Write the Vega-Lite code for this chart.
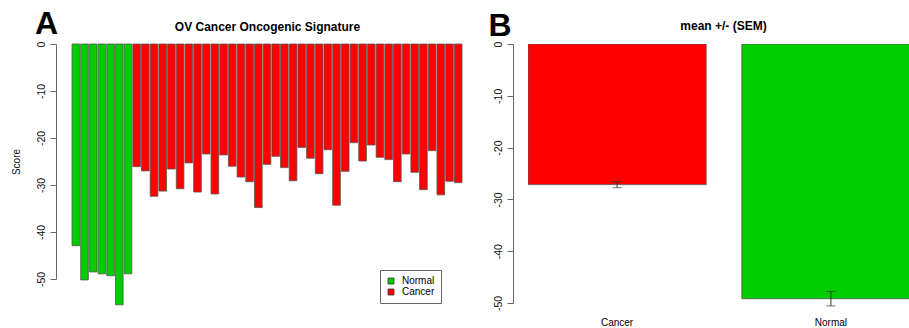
{
  "$schema": "https://vega.github.io/schema/vega-lite/v6.json",
  "background": "white",
  "padding": {"left": 11, "top": 8, "right": 0, "bottom": 0},
  "config": {
    "font": "Liberation Sans",
    "view": {"stroke": null},
    "axis": {"grid": false, "labelColor": "#111", "titleColor": "#111", "domainColor": "#666", "tickColor": "#666"}
  },
  "datasets": {
    "scores": [
      {"sample": "N1", "group": "Normal", "score": -42.9},
      {"sample": "N2", "group": "Normal", "score": -50.2},
      {"sample": "N3", "group": "Normal", "score": -48.5},
      {"sample": "N4", "group": "Normal", "score": -48.9},
      {"sample": "N5", "group": "Normal", "score": -49.3},
      {"sample": "N6", "group": "Normal", "score": -55.5},
      {"sample": "N7", "group": "Normal", "score": -48.9},
      {"sample": "C1", "group": "Cancer", "score": -26.1},
      {"sample": "C2", "group": "Cancer", "score": -27.0},
      {"sample": "C3", "group": "Cancer", "score": -32.4},
      {"sample": "C4", "group": "Cancer", "score": -31.3},
      {"sample": "C5", "group": "Cancer", "score": -26.6},
      {"sample": "C6", "group": "Cancer", "score": -30.8},
      {"sample": "C7", "group": "Cancer", "score": -25.3},
      {"sample": "C8", "group": "Cancer", "score": -31.5},
      {"sample": "C9", "group": "Cancer", "score": -23.4},
      {"sample": "C10", "group": "Cancer", "score": -31.9},
      {"sample": "C11", "group": "Cancer", "score": -23.6},
      {"sample": "C12", "group": "Cancer", "score": -26.0},
      {"sample": "C13", "group": "Cancer", "score": -28.3},
      {"sample": "C14", "group": "Cancer", "score": -29.3},
      {"sample": "C15", "group": "Cancer", "score": -34.8},
      {"sample": "C16", "group": "Cancer", "score": -25.6},
      {"sample": "C17", "group": "Cancer", "score": -23.9},
      {"sample": "C18", "group": "Cancer", "score": -26.3},
      {"sample": "C19", "group": "Cancer", "score": -29.1},
      {"sample": "C20", "group": "Cancer", "score": -22.0},
      {"sample": "C21", "group": "Cancer", "score": -24.3},
      {"sample": "C22", "group": "Cancer", "score": -27.6},
      {"sample": "C23", "group": "Cancer", "score": -22.5},
      {"sample": "C24", "group": "Cancer", "score": -34.3},
      {"sample": "C25", "group": "Cancer", "score": -27.1},
      {"sample": "C26", "group": "Cancer", "score": -21.0},
      {"sample": "C27", "group": "Cancer", "score": -24.9},
      {"sample": "C28", "group": "Cancer", "score": -21.5},
      {"sample": "C29", "group": "Cancer", "score": -24.1},
      {"sample": "C30", "group": "Cancer", "score": -24.6},
      {"sample": "C31", "group": "Cancer", "score": -29.3},
      {"sample": "C32", "group": "Cancer", "score": -23.4},
      {"sample": "C33", "group": "Cancer", "score": -27.3},
      {"sample": "C34", "group": "Cancer", "score": -31.0},
      {"sample": "C35", "group": "Cancer", "score": -22.7},
      {"sample": "C36", "group": "Cancer", "score": -32.1},
      {"sample": "C37", "group": "Cancer", "score": -29.2},
      {"sample": "C38", "group": "Cancer", "score": -29.5}
    ]
  },
  "bounds": "flush",
  "spacing": 66,
  "resolve": {"scale": {"color": "independent", "x": "independent", "y": "independent"}, "legend": {"color": "independent"}},
  "hconcat": [
    {
      "width": 390,
      "height": 235,
      "data": {"name": "scores"},
      "title": {"text": "A", "fontSize": 32, "fontWeight": "bold", "color": "black", "anchor": "start", "frame": "group", "dx": -37, "offset": -21},
      "mark": {"type": "bar", "stroke": "#555", "strokeWidth": 0.8},
      "encoding": {
        "x": {
          "field": "sample", "type": "nominal", "sort": null,
          "scale": {"paddingInner": 0.12, "paddingOuter": 0},
          "axis": {"orient": "top", "labels": false, "ticks": false, "domain": false, "title": "OV Cancer Oncogenic Signature", "titleFontSize": 12, "titleFontWeight": "bold", "titleColor": "black", "titlePadding": 11}
        },
        "y": {
          "field": "score", "type": "quantitative",
          "scale": {"domain": [-50, 0], "nice": false},
          "axis": {"values": [0, -10, -20, -30, -40, -50], "labelExpr": "toString(datum.value)", "title": "Score", "offset": 16, "labelAngle": 270, "labelFontSize": 10.5, "tickSize": 6, "labelPadding": 4, "titleFontSize": 10, "titleFontWeight": "normal", "titlePadding": 15}
        },
        "color": {
          "field": "group", "type": "nominal",
          "scale": {"domain": ["Normal", "Cancer"], "range": ["#00CD00", "#FF0000"]},
          "legend": {"orient": "none", "legendX": 308, "legendY": 226, "title": null, "symbolType": "square", "symbolSize": 36, "symbolStrokeColor": "#333", "symbolStrokeWidth": 0.8, "labelFontSize": 10, "labelColor": "black", "strokeColor": "#666", "fillColor": "white", "padding": 6, "rowPadding": 1, "labelOffset": 6}
        }
      }
    },
    {
      "width": 381,
      "height": 259,
      "data": {"name": "scores"},
      "title": {"text": "mean +/- (SEM)", "fontSize": 12, "fontWeight": "bold", "color": "black", "anchor": "middle", "frame": "group", "dx": 5, "offset": -24},
      "encoding": {
        "x": {
          "field": "group", "type": "nominal", "sort": ["Cancer", "Normal"],
          "scale": {"range": [0, 392], "paddingInner": 0.1667, "paddingOuter": 0},
          "axis": {"title": null, "labelAngle": 0, "ticks": false, "domain": false, "labelFontSize": 10, "labelPadding": 14, "labelColor": "black"}
        }
      },
      "layer": [
        {
          "mark": {"type": "bar", "clip": true, "stroke": "#555", "strokeWidth": 0.8},
          "encoding": {
            "y": {
              "aggregate": "mean", "field": "score", "type": "quantitative", "title": "B",
              "scale": {"domain": [-50, 0], "nice": false},
              "axis": {"values": [0, -10, -20, -30, -40, -50], "labelExpr": "toString(datum.value)", "offset": 15, "labelAngle": 270, "labelFontSize": 10.5, "tickSize": 6, "labelPadding": 4, "titleAngle": 0, "titleFontSize": 32, "titleFontWeight": "bold", "titleColor": "black", "titleX": -25, "titleY": -9, "titleAlign": "left", "titleBaseline": "alphabetic"}
            },
            "color": {
              "field": "group", "type": "nominal",
              "scale": {"domain": ["Normal", "Cancer"], "range": ["#00CD00", "#FF0000"]},
              "legend": null
            }
          }
        },
        {
          "mark": {"type": "errorbar", "extent": "stderr", "color": "#333", "ticks": {"size": 9}},
          "encoding": {
            "y": {"field": "score", "type": "quantitative", "title": "B"}
          }
        }
      ]
    }
  ]
}
